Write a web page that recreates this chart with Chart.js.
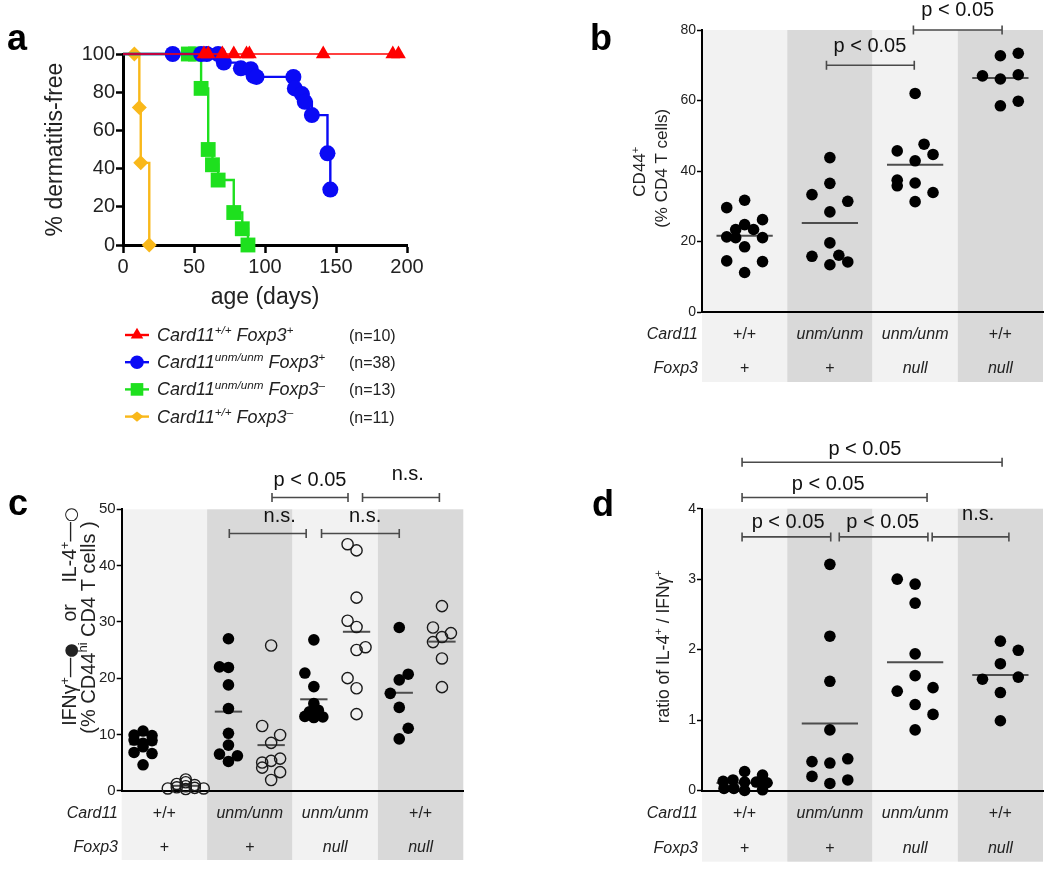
<!DOCTYPE html>
<html><head><meta charset="utf-8">
<script src="https://cdn.jsdelivr.net/npm/chart.js@4.4.1/dist/chart.umd.min.js"></script>
<style>
html,body{margin:0;padding:0;background:#fff;}
body{width:1050px;height:869px;position:relative;overflow:hidden;}
.p{position:absolute;}
canvas{display:block;}
</style></head><body>
<div class="p" style="left:0;top:0;width:450px;height:440px"><canvas id="ca" width="450" height="440"></canvas></div>
<div class="p" style="left:560px;top:0;width:490px;height:400px"><canvas id="cb" width="490" height="400"></canvas></div>
<div class="p" style="left:0;top:440px;width:500px;height:429px"><canvas id="cc" width="500" height="429"></canvas></div>
<div class="p" style="left:560px;top:430px;width:490px;height:439px"><canvas id="cd" width="490" height="439"></canvas></div>
<script>
// ---------------- DATA ----------------
// Panel a: Kaplan-Meier style survival (% dermatitis-free vs age in days)
const legendN = ['(n=10)', '(n=38)', '(n=13)', '(n=11)'];
const daysWT = [0, 57, 60, 70, 78, 87, 89, 141, 190, 194];
const pctWT = [100, 100, 100, 100, 100, 100, 100, 100, 100, 100];
const daysUnm = [0, 35, 55, 59, 67, 71, 83, 90, 92, 94, 120, 121, 126, 128, 133, 144, 146];
const pctUnm = [100, 100, 100, 100, 100, 95.5, 92.5, 92, 88.5, 88, 88, 82, 79, 75, 68, 48, 29];
const daysUnmNull = [0, 46, 51, 55, 60, 63, 67, 78, 84, 88];
const pctUnmNull = [100, 100, 100, 82, 50, 42, 34, 17, 8.5, 0];
const daysWTNull = [0, 8, 11.5, 12.5, 18.5];
const pctWTNull = [100, 100, 72, 43, 0];

// Genotype table (categories)
const card11Row = ['+/+', 'unm/unm', 'unm/unm', '+/+'];
const foxp3Row = ['+', '+', 'null', 'null'];

// Panel b: CD44+ (% CD4 T cells); *Jit = jitter slot of each dot
const cd44WT = [29.6, 31.7, 26.2, 24.8, 23.4, 23.4, 21.3, 21.1, 21.1, 18.5, 14.5, 14.3, 11.2];
const cd44WTJit = [-2, 0, 2, 0, -1, 1, -2, -1, 2, 0, -2, 2, 0];
const cd44Unm = [43.8, 36.5, 33.3, 31.4, 28.4, 19.6, 15.8, 16.1, 13.4, 14.2];
const cd44UnmJit = [0, 0, -2, 2, 0, 0, -2, 1, 0, 2];
const cd44UnmNull = [62.0, 45.7, 47.6, 44.7, 42.9, 37.4, 35.8, 36.6, 33.9, 31.3];
const cd44UnmNullJit = [0, -2, 1, 2, 0, -2, -2, 0, 2, 0];
const cd44WTNull = [72.7, 73.4, 67.0, 66.1, 67.3, 58.5, 59.8];
const cd44WTNullJit = [0, 2, -2, 0, 2, 0, 2];

// Panel c: IFNg+ (filled) and IL-4+ (open), % CD44hi CD4 T cells
const ifnWT = [10.6, 9.9, 9.8, 9.0, 8.9, 8.4, 7.8, 6.8, 6.6, 4.6];
const ifnWTJit = [0, -1, 1, -1, 1, 0, 0, -1, 1, 0];
const il4WT = [2.0, 1.5, 1.2, 1.0, 0.8, 0.6, 0.5, 0.4, 0.4, 0.3];
const il4WTJit = [0, 0, -1, 1, 0, -1, 1, -2, 2, 0];
const ifnUnm = [27.0, 22.0, 21.9, 18.8, 14.6, 10.2, 8.1, 6.5, 6.2, 5.2];
const ifnUnmJit = [0, -1, 0, 0, 0, 0, 0, -1, 1, 0];
const il4Unm = [25.8, 11.5, 9.9, 8.5, 5.7, 5.0, 5.3, 4.1, 3.3, 1.9];
const il4UnmJit = [0, -1, 1, 0, 1, -1, 0, -1, 1, 0];
const ifnUnmNull = [26.8, 20.9, 18.5, 15.5, 14.3, 14.0, 13.2, 13.1, 13.1, 13.0];
const ifnUnmNullJit = [0, -1, 0, 0, 0.5, -0.5, -1, 0, 1, 0];
const il4UnmNull = [43.8, 42.7, 34.3, 30.2, 29.1, 25.0, 25.5, 20.0, 18.2, 13.6];
const il4UnmNullJit = [-1, 0, 0, -1, 0, 0, 1, -1, 0, 0];
const ifnWTNull = [29.0, 20.7, 19.7, 17.3, 14.8, 11.1, 9.2];
const ifnWTNullJit = [0, 1, 0, -1, 0, 1, 0];
const il4WTNull = [32.8, 29.0, 28.0, 27.3, 26.4, 23.5, 18.4];
const il4WTNullJit = [0, -1, 1, 0, -1, 0, 0];

// Panel d: ratio of IL-4+ / IFNg+
const ratioWT = [0.27, 0.22, 0.15, 0.13, 0.12, 0.12, 0.11, 0.10, 0.03, 0.03, 0.01, 0.0];
const ratioWTJit = [0, 2, -1.3, -2.4, 0, 1.3, 2.5, 2, -1.2, -2.3, 2, 0];
const ratioUnm = [3.21, 2.19, 1.55, 0.86, 0.41, 0.39, 0.45, 0.20, 0.15, 0.10];
const ratioUnmJit = [0, 0, 0, 0, -2, 0, 2, -2, 2, 0];
const ratioUnmNull = [3.00, 2.93, 2.66, 1.94, 1.63, 1.41, 1.46, 1.22, 1.08, 0.86];
const ratioUnmNullJit = [-2, 0, 0, 0, 0, -2, 2, 0, 2, 0];
const ratioWTNull = [2.12, 1.99, 1.80, 1.58, 1.61, 1.39, 0.99];
const ratioWTNullJit = [0, 2, 0, -2, 2, 0, 0];

// ---------------- HELPERS ----------------
const FONT = "'Liberation Sans', Arial, Helvetica, sans-serif";
const SYMFONT = "'DejaVu Sans', sans-serif";
Chart.defaults.font.family = FONT;
Chart.defaults.color = '#222';
Chart.defaults.animation = false;
Chart.defaults.events = [];
Chart.defaults.plugins.legend.display = false;
Chart.defaults.plugins.tooltip.enabled = false;

const SLOT = 0.105;
const BAND_COLORS = ['#f2f2f2', '#d9d9d9', '#f2f2f2', '#d9d9d9'];

function layoutRich(ctx, segs, size) {
  let w = 0;
  const parts = segs.map(s => {
    const fs = s.sup ? size * 0.65 : (s.sym ? size * s.sym : size);
    const font = (s.it ? 'italic ' : '') + fs + 'px ' + (s.sym ? SYMFONT : FONT);
    ctx.font = font;
    const mw = ctx.measureText(s.t).width;
    const p = {t: s.t, font, mw, x: w, dy: s.sup ? -size * 0.38 : (s.sym ? -size * 0.02 : 0)};
    w += mw;
    return p;
  });
  return {parts, w};
}
function drawRich(ctx, segs, x, y, size, align, color) {
  const {parts, w} = layoutRich(ctx, segs, size);
  const x0 = align === 'center' ? x - w / 2 : x;
  ctx.save();
  ctx.fillStyle = color || '#222';
  ctx.textAlign = 'left';
  ctx.textBaseline = 'alphabetic';
  parts.forEach(p => { ctx.font = p.font; ctx.fillText(p.t, x0 + p.x, y + p.dy); });
  ctx.restore();
}
function drawRichRotated(ctx, segs, baseX, cy, size) {
  ctx.save();
  ctx.translate(baseX, cy);
  ctx.rotate(-Math.PI / 2);
  drawRich(ctx, segs, 0, 0, size, 'center', '#222');
  ctx.restore();
}
function marker(ctx, style, x, y, r, color) {
  ctx.save();
  ctx.fillStyle = color;
  ctx.beginPath();
  if (style === 'circle') ctx.arc(x, y, r, 0, 2 * Math.PI);
  else if (style === 'rect') { const s = r * Math.SQRT1_2; ctx.rect(x - s, y - s, 2 * s, 2 * s); }
  else if (style === 'triangle') { ctx.moveTo(x, y - r); ctx.lineTo(x + r * 0.866, y + r * 0.5); ctx.lineTo(x - r * 0.866, y + r * 0.5); ctx.closePath(); }
  else { ctx.moveTo(x, y - r * 0.8); ctx.lineTo(x + r, y); ctx.lineTo(x, y + r * 0.8); ctx.lineTo(x - r, y); ctx.closePath(); }
  ctx.fill();
  ctx.restore();
}
function letterPlugin(txt, x, y) {
  return {id: 'letter', afterDraw(chart) {
    const ctx = chart.ctx; ctx.save();
    ctx.font = 'bold 36px ' + FONT; ctx.fillStyle = '#000';
    ctx.textAlign = 'left'; ctx.textBaseline = 'alphabetic';
    ctx.fillText(txt, x, y); ctx.restore();
  }};
}
function bandsPlugin(bottom) {
  return {id: 'bands', beforeDraw(chart) {
    const {ctx, chartArea: a, scales: {x}} = chart;
    ctx.save();
    BAND_COLORS.forEach((c, i) => {
      const x0 = x.getPixelForValue(i + 0.5), x1 = x.getPixelForValue(i + 1.5);
      ctx.fillStyle = c; ctx.fillRect(x0, a.top, x1 - x0, bottom - a.top);
    });
    ctx.restore();
  }};
}
function tablePlugin(rowYs, labelX) {
  return {id: 'gtable', afterDraw(chart) {
    const {ctx, scales: {x}} = chart;
    const rows = [['Card11', card11Row], ['Foxp3', foxp3Row]];
    ctx.save(); ctx.fillStyle = '#222'; ctx.textBaseline = 'middle';
    rows.forEach(([lab, vals], ri) => {
      const y = rowYs[ri];
      ctx.font = 'italic 16px ' + FONT; ctx.textAlign = 'right';
      ctx.fillText(lab, labelX, y);
      ctx.textAlign = 'center';
      vals.forEach((v, i) => {
        ctx.font = (/[a-z]/.test(v) ? 'italic ' : '') + '16px ' + FONT;
        ctx.fillText(v, x.getPixelForValue(i + 1), y);
      });
    });
    ctx.restore();
  }};
}
function bracketPlugin(list) {
  return {id: 'brackets', afterDraw(chart) {
    const {ctx, scales: {x, y}} = chart;
    ctx.save();
    list.forEach(b => {
      const x1 = x.getPixelForValue(b.from), x2 = x.getPixelForValue(b.to), py = y.getPixelForValue(b.y);
      ctx.strokeStyle = '#4a4a4a'; ctx.lineWidth = 1.6;
      ctx.beginPath();
      ctx.moveTo(x1, py); ctx.lineTo(x2, py);
      ctx.moveTo(x1, py - 4.5); ctx.lineTo(x1, py + 4.5);
      ctx.moveTo(x2, py - 4.5); ctx.lineTo(x2, py + 4.5);
      ctx.stroke();
      ctx.font = '20px ' + FONT; ctx.fillStyle = '#111';
      ctx.textAlign = 'center'; ctx.textBaseline = 'alphabetic';
      ctx.fillText(b.text, x.getPixelForValue(b.at), py - b.lift);
    });
    ctx.restore();
  }};
}
function yTitlePlugin(lines) {
  return {id: 'ytitle', afterDraw(chart) {
    lines.forEach(l => drawRichRotated(chart.ctx, l.segs, l.x, l.cy, l.size));
  }};
}
function dots(vals, jit, cx, r, filled) {
  return {
    type: 'scatter',
    data: vals.map((v, k) => ({x: cx + jit[k] * SLOT, y: v})),
    pointRadius: r, pointHoverRadius: r,
    pointBackgroundColor: filled ? '#000' : 'rgba(0,0,0,0)',
    pointBorderColor: filled ? '#000' : '#1a1a1a',
    pointBorderWidth: filled ? 0 : 1.4,
    clip: false, order: 1
  };
}
function meanLine(vals, cx, hw) {
  const m = vals.reduce((a, b) => a + b, 0) / vals.length;
  return {type: 'line', data: [{x: cx - hw, y: m}, {x: cx + hw, y: m}],
    borderColor: '#4d4d4d', borderWidth: 2, pointRadius: 0, clip: false, order: 2};
}
function dotScales(ymax, step, yW, xH, tickSize) {
  return {
    x: {type: 'linear', min: 0.5, max: 4.5, afterFit: s => { s.height = xH; },
        ticks: {display: false}, grid: {display: false},
        border: {display: true, color: '#000', width: 2}},
    y: {type: 'linear', min: 0, max: ymax, afterFit: s => { s.width = yW; },
        ticks: {stepSize: step, font: {size: tickSize}, color: '#222', padding: 1},
        grid: {display: true, drawOnChartArea: false, drawTicks: true, tickLength: 5, tickWidth: 1.5, tickColor: '#000'},
        border: {display: true, color: '#000', width: 2}}
  };
}

// ---------------- PANEL A ----------------
const survSeries = [
  {days: daysWT, pct: pctWT, color: '#ff0000', style: 'triangle', r: 8.5, lw: 1.5},
  {days: daysUnm, pct: pctUnm, color: '#0a0af5', style: 'circle', r: 8, lw: 2.4},
  {days: daysUnmNull, pct: pctUnmNull, color: '#1ee01e', style: 'rect', r: 10.5, lw: 2.4},
  {days: daysWTNull, pct: pctWTNull, color: '#f9b81a', style: 'rectRot', r: 7.5, lw: 2.4}
];
const legendSegs = [
  [{t: 'Card11', it: 1}, {t: '+/+', it: 1, sup: 1}, {t: ' Foxp3', it: 1}, {t: '+', sup: 1}],
  [{t: 'Card11', it: 1}, {t: 'unm/unm', it: 1, sup: 1}, {t: ' Foxp3', it: 1}, {t: '+', sup: 1}],
  [{t: 'Card11', it: 1}, {t: 'unm/unm', it: 1, sup: 1}, {t: ' Foxp3', it: 1}, {t: '–', sup: 1}],
  [{t: 'Card11', it: 1}, {t: '+/+', it: 1, sup: 1}, {t: ' Foxp3', it: 1}, {t: '–', sup: 1}]
];
const legendPlugin = {id: 'survLegend', afterDraw(chart) {
  const ctx = chart.ctx;
  survSeries.forEach((s, i) => {
    const y = 335 + i * 27.2;
    ctx.save(); ctx.strokeStyle = s.color; ctx.lineWidth = 2.4;
    ctx.beginPath(); ctx.moveTo(125, y); ctx.lineTo(149, y); ctx.stroke(); ctx.restore();
    marker(ctx, s.style, 137, y, s.r * 0.85, s.color);
    drawRich(ctx, legendSegs[i], 157, y + 6, 18, 'left', '#222');
    ctx.save(); ctx.font = '16px ' + FONT; ctx.fillStyle = '#222'; ctx.textAlign = 'left'; ctx.textBaseline = 'alphabetic';
    ctx.fillText(legendN[i], 349, y + 6); ctx.restore();
  });
}};
new Chart(document.getElementById('ca'), {
  type: 'line',
  data: {datasets: survSeries.map(s => ({
    data: s.days.map((d, i) => ({x: d, y: s.pct[i]})),
    stepped: true, borderColor: s.color, borderWidth: s.lw, fill: false,
    pointStyle: s.style, pointRadius: c => c.dataIndex === 0 ? 0 : s.r,
    pointBackgroundColor: s.color, pointBorderColor: s.color, pointBorderWidth: 0,
    clip: false
  }))},
  options: {
    responsive: false,
    layout: {padding: {left: 0, top: 54, right: 43, bottom: 125}},
    scales: {
      x: {type: 'linear', min: 0, max: 200, afterFit: s => { s.height = 70; },
          ticks: {stepSize: 50, font: {size: 20}, color: '#222', padding: 2},
          grid: {display: true, drawOnChartArea: false, drawTicks: true, tickLength: 8, tickWidth: 2.5, tickColor: '#000'},
          border: {display: true, color: '#000', width: 3},
          title: {display: true, text: 'age (days)', font: {size: 23}, color: '#222', padding: {top: 0, bottom: 4}}},
      y: {type: 'linear', min: 0, max: 100, afterFit: s => { s.width = 123; },
          ticks: {stepSize: 20, font: {size: 20}, color: '#222', padding: 1},
          grid: {display: true, drawOnChartArea: false, drawTicks: true, tickLength: 7, tickWidth: 2.5, tickColor: '#000'},
          border: {display: true, color: '#000', width: 3},
          title: {display: true, text: '% dermatitis-free', font: {size: 23}, color: '#222', padding: {top: 42, bottom: 0}}}
    }
  },
  plugins: [legendPlugin, letterPlugin('a', 7, 50)]
});

// ---------------- PANEL B ----------------
new Chart(document.getElementById('cb'), {
  type: 'scatter',
  data: {datasets: [
    dots(cd44WT, cd44WTJit, 1, 5.8, true), meanLine(cd44WT, 1, 0.33),
    dots(cd44Unm, cd44UnmJit, 2, 5.8, true), meanLine(cd44Unm, 2, 0.33),
    dots(cd44UnmNull, cd44UnmNullJit, 3, 5.8, true), meanLine(cd44UnmNull, 3, 0.33),
    dots(cd44WTNull, cd44WTNullJit, 4, 5.8, true), meanLine(cd44WTNull, 4, 0.33)
  ]},
  options: {responsive: false, layout: {padding: {left: 0, top: 30, right: 7, bottom: 0}},
    scales: dotScales(80, 20, 142, 88, 14)},
  plugins: [bandsPlugin(382), tablePlugin([335, 369], 138),
    bracketPlugin([
      {from: 1.96, to: 2.99, y: 70, text: 'p < 0.05', at: 2.47, lift: 13},
      {from: 2.98, to: 4.02, y: 80, text: 'p < 0.05', at: 3.5, lift: 14}
    ]),
    yTitlePlugin([
      {segs: [{t: 'CD44'}, {t: '+', sup: 1}], x: 85, cy: 171.7, size: 17},
      {segs: [{t: '(% CD4 T cells)'}], x: 107, cy: 168.3, size: 17}
    ]),
    letterPlugin('b', 30, 50)]
});

// ---------------- PANEL C ----------------
const subL = -0.25, subR = 0.25;
new Chart(document.getElementById('cc'), {
  type: 'scatter',
  data: {datasets: [
    dots(ifnWT, ifnWTJit, 1 + subL, 5.8, true), meanLine(ifnWT, 1 + subL, 0.16),
    dots(il4WT, il4WTJit, 1 + subR, 5.6, false), meanLine(il4WT, 1 + subR, 0.16),
    dots(ifnUnm, ifnUnmJit, 2 + subL, 5.8, true), meanLine(ifnUnm, 2 + subL, 0.16),
    dots(il4Unm, il4UnmJit, 2 + subR, 5.6, false), meanLine(il4Unm, 2 + subR, 0.16),
    dots(ifnUnmNull, ifnUnmNullJit, 3 + subL, 5.8, true), meanLine(ifnUnmNull, 3 + subL, 0.16),
    dots(il4UnmNull, il4UnmNullJit, 3 + subR, 5.6, false), meanLine(il4UnmNull, 3 + subR, 0.16),
    dots(ifnWTNull, ifnWTNullJit, 4 + subL, 5.8, true), meanLine(ifnWTNull, 4 + subL, 0.16),
    dots(il4WTNull, il4WTNullJit, 4 + subR, 5.6, false), meanLine(il4WTNull, 4 + subR, 0.16)
  ]},
  options: {responsive: false, layout: {padding: {left: 0, top: 69.3, right: 36.7, bottom: 0}},
    scales: dotScales(50, 10, 121.7, 78.3, 15)},
  plugins: [bandsPlugin(420), tablePlugin([373.3, 407.3], 118),
    bracketPlugin([
      {from: 1.76, to: 2.66, y: 45.7, text: 'n.s.', at: 2.35, lift: 12},
      {from: 2.84, to: 3.75, y: 45.7, text: 'n.s.', at: 3.35, lift: 12},
      {from: 2.26, to: 3.15, y: 52.1, text: 'p < 0.05', at: 2.705, lift: 11},
      {from: 3.32, to: 4.22, y: 52.1, text: 'n.s.', at: 3.85, lift: 17}
    ]),
    yTitlePlugin([
      {segs: [{t: 'IFNγ'}, {t: '+', sup: 1}, {t: '—'}, {t: '●', sym: 0.85}, {t: '    or    '},
              {t: 'IL-4'}, {t: '+', sup: 1}, {t: '—'}, {t: '○', sym: 0.85}], x: 76, cy: 176.7, size: 19.5},
      {segs: [{t: '(% CD44'}, {t: 'hi', sup: 1}, {t: ' CD4 T cells )'}], x: 95, cy: 187.5, size: 20}
    ]),
    letterPlugin('c', 8, 75)]
});

// ---------------- PANEL D ----------------
new Chart(document.getElementById('cd'), {
  type: 'scatter',
  data: {datasets: [
    dots(ratioWT, ratioWTJit, 1, 5.8, true), meanLine(ratioWT, 1, 0.33),
    dots(ratioUnm, ratioUnmJit, 2, 5.8, true), meanLine(ratioUnm, 2, 0.33),
    dots(ratioUnmNull, ratioUnmNullJit, 3, 5.8, true), meanLine(ratioUnmNull, 3, 0.33),
    dots(ratioWTNull, ratioWTNullJit, 4, 5.8, true), meanLine(ratioWTNull, 4, 0.33)
  ]},
  options: {responsive: false, layout: {padding: {left: 0, top: 78.7, right: 7, bottom: 0}},
    scales: dotScales(4, 1, 142, 78.5, 14)},
  plugins: [bandsPlugin(431.7), tablePlugin([383.3, 418.3], 138),
    bracketPlugin([
      {from: 0.97, to: 2.01, y: 3.6, text: 'p < 0.05', at: 1.51, lift: 9},
      {from: 2.11, to: 3.15, y: 3.6, text: 'p < 0.05', at: 2.62, lift: 9},
      {from: 3.2, to: 4.1, y: 3.6, text: 'n.s.', at: 3.74, lift: 17},
      {from: 0.97, to: 3.14, y: 4.16, text: 'p < 0.05', at: 1.98, lift: 7},
      {from: 0.97, to: 4.02, y: 4.66, text: 'p < 0.05', at: 2.41, lift: 7}
    ]),
    yTitlePlugin([
      {segs: [{t: 'ratio of IL-4'}, {t: '+', sup: 1}, {t: ' / IFNγ'}, {t: '+', sup: 1}], x: 109, cy: 216.7, size: 17.5}
    ]),
    letterPlugin('d', 32, 86)]
});
</script>
</body></html>
